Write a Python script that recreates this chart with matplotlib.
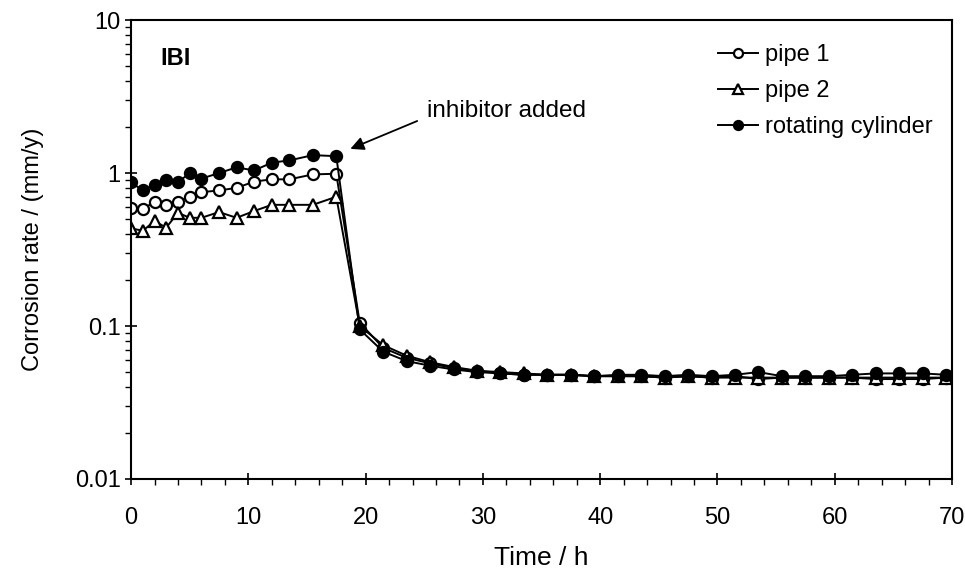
import matplotlib
matplotlib.use("Agg")
import matplotlib.pyplot as plt
from matplotlib.ticker import LogLocator, NullFormatter, FixedLocator, FixedFormatter, MultipleLocator

plt.rcParams['font.family'] = ['Liberation Sans', 'DejaVu Sans']

time_pre = [0, 1, 2, 3, 4, 5, 6, 7.5, 9, 10.5, 12, 13.5, 15.5, 17.5]
time_post = [19.5, 21.5, 23.5, 25.5, 27.5, 29.5, 31.5, 33.5, 35.5, 37.5, 39.5,
             41.5, 43.5, 45.5, 47.5, 49.5, 51.5, 53.5, 55.5, 57.5, 59.5, 61.5,
             63.5, 65.5, 67.5, 69.5]
time = time_pre + time_post

pipe1 = [0.59, 0.58, 0.65, 0.62, 0.65, 0.70, 0.75, 0.77, 0.80, 0.88, 0.91, 0.91, 0.98, 0.99,
         0.105, 0.072, 0.062, 0.057, 0.053, 0.051, 0.049, 0.048, 0.048, 0.048, 0.047,
         0.047, 0.047, 0.046, 0.047, 0.046, 0.047, 0.045, 0.046, 0.046, 0.046, 0.046,
         0.045, 0.045, 0.045, 0.046]
pipe2 = [0.435, 0.42, 0.485, 0.44, 0.55, 0.51, 0.51, 0.556, 0.51, 0.565, 0.62, 0.62, 0.62, 0.70,
         0.10, 0.075, 0.064, 0.058, 0.054, 0.051, 0.050, 0.049, 0.048, 0.048, 0.047,
         0.047, 0.047, 0.046, 0.047, 0.046, 0.046, 0.046, 0.046, 0.046, 0.046, 0.046,
         0.046, 0.046, 0.046, 0.046]
cylinder = [0.87, 0.77, 0.84, 0.90, 0.87, 1.0, 0.92, 1.0, 1.09, 1.04, 1.17, 1.21, 1.31, 1.29,
            0.095, 0.068, 0.059, 0.055, 0.052, 0.050, 0.049, 0.048, 0.048, 0.048, 0.047,
            0.048, 0.048, 0.047, 0.048, 0.047, 0.048, 0.050, 0.047, 0.047, 0.047, 0.048,
            0.049, 0.049, 0.049, 0.048]

labels = ["pipe 1", "pipe 2", "rotating cylinder"]
x_ticks = [0, 10, 20, 30, 40, 50, 60, 70]
y_ticks = [0.01, 0.1, 1, 10]
y_ticklabels = ["0.01", "0.1", "1", "10"]

fig = plt.figure(figsize=(9.65, 5.75), dpi=100)
ax = fig.add_axes([0.1358, 0.167, 0.8507, 0.798])

ms = 8
ax.plot(time, pipe1, '-o', color='black', mfc='white', mec='black', ms=ms, mew=1.6, lw=1.4, label=labels[0])
ax.plot(time, pipe2, '-^', color='black', mfc='white', mec='black', ms=ms, mew=1.6, lw=1.4, label=labels[1])
ax.plot(time, cylinder, '-o', color='black', mfc='black', mec='black', ms=ms, mew=1.6, lw=1.4, label=labels[2])

ax.set_yscale('log')
ax.set_xlim(0, 70)
ax.set_ylim(0.01, 10)
ax.xaxis.set_major_locator(FixedLocator(x_ticks))
ax.xaxis.set_minor_locator(MultipleLocator(2))
ax.yaxis.set_major_locator(FixedLocator(y_ticks))
ax.yaxis.set_major_formatter(FixedFormatter(y_ticklabels))
ax.yaxis.set_minor_locator(LogLocator(base=10, subs=range(2, 10)))
ax.yaxis.set_minor_formatter(NullFormatter())

ax.tick_params(axis='both', which='major', direction='inout', length=9, width=1.2,
               labelsize=17, top=False, right=False)
ax.tick_params(axis='x', which='major', pad=16)
ax.tick_params(axis='y', which='major', pad=3)
ax.tick_params(axis='both', which='minor', direction='out', length=4, width=1.0,
               top=False, right=False)
for sp in ax.spines.values():
    sp.set_linewidth(1.5)

ax.set_xlabel("Time / h", fontsize=19, labelpad=12)
ax.set_ylabel("Corrosion rate / (mm/y)", fontsize=17, labelpad=22)

ax.text(2.5, 5.6, "IBI", fontsize=17, fontweight='bold', va='center', ha='left')

ax.annotate("", xy=(18.7, 1.44), xytext=(24.4, 2.19),
            arrowprops=dict(arrowstyle='-|>', color='black', lw=1.3,
                            mutation_scale=20, shrinkA=0, shrinkB=0))
ax.text(25.2, 2.55, "inhibitor added", fontsize=17.5, va='center', ha='left')

leg = ax.legend(loc='upper right', frameon=False, fontsize=17, handlelength=1.7,
                handletextpad=0.3, labelspacing=0.58, borderpad=0, borderaxespad=0,
                bbox_to_anchor=(0.977, 0.947))
for h in leg.legend_handles:
    h.set_markersize(6.5)

fig.savefig("out.png", dpi=100)
